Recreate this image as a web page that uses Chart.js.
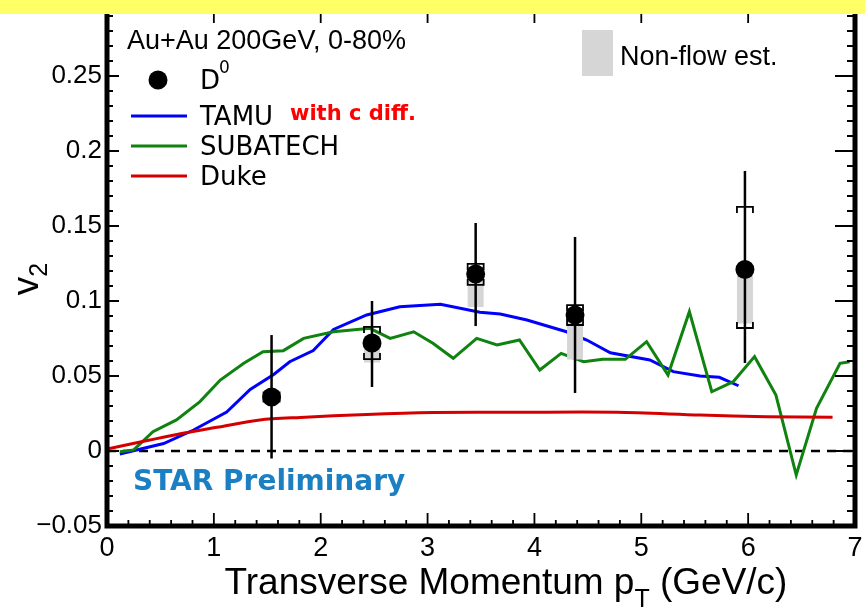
<!DOCTYPE html>
<html>
<head>
<meta charset="utf-8">
<title>D0 v2 vs pT</title>
<script src="https://cdn.jsdelivr.net/npm/chart.js@4/dist/chart.umd.min.js"></script>
<style>
  html, body { margin: 0; padding: 0; background: #fff; }
  canvas { display: block; }
</style>
</head>
<body>
<canvas id="cv" width="865" height="610"></canvas>
<script>
// D0 points: pT, v2, stat. error ends, syst. brackets, non-flow lower edge
const ptD0 = [1.54, 2.48, 3.45, 4.38, 5.97];
const v2D0 = [0.036, 0.072, 0.118, 0.0907, 0.121];
const statLo = [-0.005, 0.0427, 0.0833, 0.0387, 0.0587];
const statHi = [0.0773, 0.100, 0.152, 0.1427, 0.1867];
const sysLo = [0.033, 0.0613, 0.1107, 0.084, 0.082];
const sysHi = [0.039, 0.0827, 0.1247, 0.0973, 0.1627];
const nonflowLo = [0.035, 0.059, 0.096, 0.061, 0.085];

// model curves
const tamuX = [0.12, 0.53, 0.81, 1.12, 1.34, 1.56, 1.71, 1.93, 2.12, 2.43, 2.74, 3.12, 3.49, 3.68, 3.93, 4.30, 4.49, 4.71, 5.08, 5.30, 5.55, 5.73, 5.91];
const tamuY = [-0.002, 0.005, 0.014, 0.026, 0.041, 0.051, 0.0595, 0.067, 0.081, 0.0907, 0.0962, 0.0978, 0.0925, 0.0913, 0.0873, 0.0795, 0.074, 0.0655, 0.0607, 0.0529, 0.05, 0.0491, 0.0435];

const subX = [0.12, 0.25, 0.43, 0.65, 0.87, 1.06, 1.28, 1.46, 1.65, 1.84, 2.12, 2.46, 2.65, 2.87, 3.05, 3.24, 3.46, 3.65, 3.86, 4.05, 4.25, 4.46, 4.64, 4.85, 5.05, 5.25, 5.45, 5.66, 5.86, 6.06, 6.26, 6.45, 6.64, 6.86, 6.95];
const subY = [-0.0005, 0.0007, 0.0129, 0.0207, 0.0329, 0.0473, 0.0585, 0.0662, 0.0669, 0.0751, 0.0795, 0.0818, 0.0751, 0.0795, 0.0718, 0.0618, 0.0751, 0.0707, 0.074, 0.054, 0.0651, 0.0595, 0.0611, 0.0611, 0.0729, 0.0507, 0.0929, 0.0395, 0.0462, 0.0629, 0.0373, -0.016, 0.0285, 0.0585, 0.0595];

const dukeX = [0.0, 0.40, 0.71, 1.03, 1.43, 1.81, 2.43, 3.05, 3.86, 4.77, 5.55, 6.17, 6.79];
const dukeY = [0.0013, 0.0073, 0.0118, 0.0158, 0.0207, 0.0224, 0.0244, 0.0256, 0.0258, 0.0258, 0.024, 0.0229, 0.0225];

const zeroX = [0, 7];
const zeroY = [0, 0];

const xMin = 0, xMax = 7;
const yMin = -0.05, yMax = 0.3;

const legendNames = ['TAMU', 'SUBATECH', 'Duke'];
const legendColors = ['#0000ff', '#0f820f', '#d40000'];

const SANS = '"Liberation Sans", Arial, sans-serif';
const DEJAVU = '"DejaVu Sans", sans-serif';

function pts(xs, ys) {
    return xs.map((x, i) => ({ x: x, y: ys[i] }));
}

// error bars, systematic brackets and non-flow boxes, drawn just under the D0 markers
const d0Errors = {
    id: 'd0Errors',
    beforeDatasetDraw(chart, args) {
        if (args.index !== 0) return;
        const { ctx, scales: { x, y } } = chart;
        ctx.save();
        for (let i = 0; i < ptD0.length; i++) {
            const px = x.getPixelForValue(ptD0[i]);
            const py = y.getPixelForValue(v2D0[i]);
            // non-flow estimate
            const pLo = y.getPixelForValue(nonflowLo[i]);
            ctx.fillStyle = '#d6d6d6';
            ctx.fillRect(px - 8, py, 16, pLo - py);
            // systematic brackets
            const bHi = y.getPixelForValue(sysHi[i]);
            const bLo = y.getPixelForValue(sysLo[i]);
            ctx.strokeStyle = '#000';
            ctx.lineWidth = 1.8;
            ctx.beginPath();
            ctx.moveTo(px - 8, bHi + 6); ctx.lineTo(px - 8, bHi); ctx.lineTo(px + 8, bHi); ctx.lineTo(px + 8, bHi + 6);
            ctx.moveTo(px - 8, bLo - 6); ctx.lineTo(px - 8, bLo); ctx.lineTo(px + 8, bLo); ctx.lineTo(px + 8, bLo - 6);
            ctx.stroke();
            // statistical error
            ctx.lineWidth = 2.5;
            ctx.beginPath();
            ctx.moveTo(px, y.getPixelForValue(statHi[i]));
            ctx.lineTo(px, y.getPixelForValue(statLo[i]));
            ctx.stroke();
        }
        ctx.restore();
    }
};

// ROOT style frame with inward ticks on all four sides
const rootFrame = {
    id: 'rootFrame',
    afterDatasetsDraw(chart) {
        const { ctx, chartArea: a, scales: { x, y } } = chart;
        ctx.save();
        ctx.strokeStyle = '#000';
        ctx.lineWidth = 1.8;
        ctx.beginPath();
        for (let i = 0; i <= 35; i++) {
            const px = x.getPixelForValue(i / 5);
            const major = i % 5 === 0;
            ctx.moveTo(px, a.bottom); ctx.lineTo(px, a.bottom - (major ? 13 : 6));
            ctx.moveTo(px, a.top); ctx.lineTo(px, a.top + (major ? 22 : 9));
        }
        for (let i = -5; i <= 30; i++) {
            const py = y.getPixelForValue(i / 100);
            const major = i % 5 === 0;
            ctx.moveTo(a.left, py); ctx.lineTo(a.left + (major ? 12 : 6), py);
            ctx.moveTo(a.right, py); ctx.lineTo(a.right - (major ? 20 : 8), py);
        }
        ctx.stroke();
        ctx.lineWidth = 5;
        ctx.strokeRect(a.left, a.top, a.right - a.left, a.bottom - a.top);
        ctx.restore();
    }
};

// legend, titles and labels
const annotations = {
    id: 'annotations',
    afterDraw(chart) {
        const { ctx } = chart;
        ctx.save();
        ctx.fillStyle = '#000';
        ctx.textBaseline = 'alphabetic';
        ctx.textAlign = 'left';

        ctx.font = '27px ' + SANS;
        ctx.fillText('Au+Au 200GeV, 0-80%', 127, 49);

        // D0 entry
        ctx.beginPath();
        ctx.arc(158, 80, 9.5, 0, Math.PI * 2);
        ctx.fill();
        ctx.font = '26px ' + DEJAVU;
        ctx.fillText('D', 200, 89);
        ctx.font = '17px ' + DEJAVU;
        ctx.fillText('0', 219, 73);

        // model entries
        ctx.lineWidth = 3;
        legendNames.forEach((name, i) => {
            const ly = 116 + i * 30;
            ctx.strokeStyle = legendColors[i];
            ctx.beginPath();
            ctx.moveTo(131, ly); ctx.lineTo(187, ly);
            ctx.stroke();
            ctx.fillStyle = '#000';
            ctx.font = '26px ' + DEJAVU;
            ctx.fillText(name, 200, ly + 9);
        });

        ctx.fillStyle = '#ff0000';
        ctx.font = 'bold 21px ' + DEJAVU;
        ctx.fillText('with c diff.', 290, 120);

        // non-flow legend
        ctx.fillStyle = '#d6d6d6';
        ctx.fillRect(582, 30, 31, 46);
        ctx.fillStyle = '#000';
        ctx.font = '27px ' + SANS;
        ctx.fillText('Non-flow est.', 620, 65);

        // preliminary tag
        ctx.fillStyle = '#1b7fc3';
        ctx.font = 'bold 28px ' + DEJAVU;
        ctx.fillText('STAR Preliminary', 133, 490);

        // x title with subscript
        ctx.fillStyle = '#000';
        const t1 = 'Transverse Momentum p';
        const t2 = 'T';
        const t3 = ' (GeV/c)';
        ctx.font = '37px ' + SANS;
        const w1 = ctx.measureText(t1).width;
        const w3 = ctx.measureText(t3).width;
        ctx.font = '25px ' + SANS;
        const w2 = ctx.measureText(t2).width;
        let tx = 506 - (w1 + w2 + w3) / 2;
        ctx.font = '37px ' + SANS;
        ctx.fillText(t1, tx, 594);
        ctx.font = '25px ' + SANS;
        ctx.fillText(t2, tx + w1, 607);
        ctx.font = '37px ' + SANS;
        ctx.fillText(t3, tx + w1 + w2, 594);

        // y title v2, rotated
        ctx.translate(38, 280);
        ctx.rotate(-Math.PI / 2);
        ctx.font = '37px ' + SANS;
        const wv = ctx.measureText('v').width;
        ctx.fillText('v', -wv / 2 - 6, 0);
        ctx.font = '25px ' + SANS;
        ctx.fillText('2', wv / 2 - 6, 9);
        ctx.setTransform(1, 0, 0, 1, 0, 0);

        // top strip
        ctx.fillStyle = '#ffff66';
        ctx.fillRect(0, 0, chart.width, 14);
        ctx.restore();
    }
};

new Chart(document.getElementById('cv'), {
    type: 'line',
    data: {
        datasets: [
            {
                label: 'D0',
                data: pts(ptD0, v2D0),
                showLine: false,
                pointRadius: 9.5,
                pointHoverRadius: 9.5,
                pointBackgroundColor: '#000',
                pointBorderWidth: 0
            },
            {
                label: 'Duke',
                data: pts(dukeX, dukeY),
                borderColor: legendColors[2],
                borderWidth: 3,
                pointRadius: 0,
                tension: 0.3
            },
            {
                label: 'SUBATECH',
                data: pts(subX, subY),
                borderColor: legendColors[1],
                borderWidth: 3,
                pointRadius: 0,
                tension: 0
            },
            {
                label: 'TAMU',
                data: pts(tamuX, tamuY),
                borderColor: legendColors[0],
                borderWidth: 3,
                pointRadius: 0,
                tension: 0
            },
            {
                label: 'zero',
                data: pts(zeroX, zeroY),
                borderColor: '#000',
                borderWidth: 2.5,
                borderDash: [9, 7],
                pointRadius: 0
            }
        ]
    },
    options: {
        responsive: false,
        animation: false,
        devicePixelRatio: 1,
        layout: { padding: { top: 1, right: 10, left: 0, bottom: 0 }, autoPadding: false },
        plugins: {
            legend: { display: false },
            tooltip: { enabled: false }
        },
        scales: {
            x: {
                type: 'linear',
                min: xMin,
                max: xMax,
                afterFit(scale) {
                    scale.height = 84;
                    scale.paddingLeft = 0;
                    scale.paddingRight = 0;
                },
                grid: { display: false, drawTicks: false },
                border: { display: false },
                ticks: {
                    stepSize: 1,
                    padding: 6,
                    color: '#000',
                    font: { family: SANS, size: 27 },
                    maxRotation: 0
                }
            },
            y: {
                type: 'linear',
                min: yMin,
                max: yMax,
                afterFit(scale) {
                    scale.width = 107;
                    scale.paddingTop = 0;
                    scale.paddingBottom = 0;
                },
                grid: { display: false, drawTicks: false },
                border: { display: false },
                ticks: {
                    stepSize: 0.05,
                    padding: 5,
                    color: '#000',
                    font: { family: SANS, size: 26 },
                    callback: (v) => String(Math.round(v * 100) / 100).replace('-', '\u2212')
                }
            }
        }
    },
    plugins: [d0Errors, rootFrame, annotations]
});
</script>
</body>
</html>
